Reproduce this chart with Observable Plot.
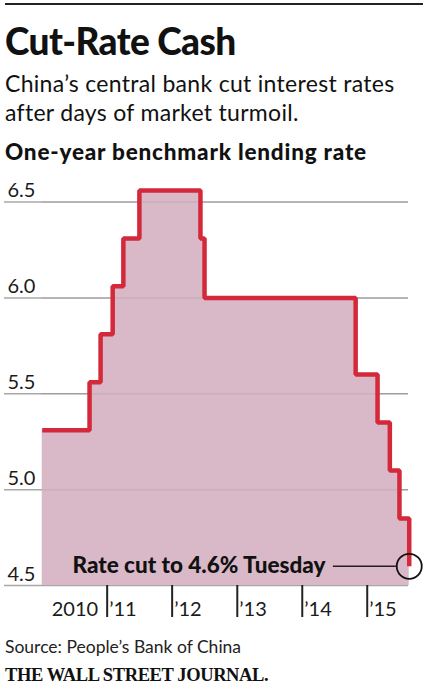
<!DOCTYPE html>
<html>
<head>
<meta charset="utf-8">
<script src="https://cdn.jsdelivr.net/npm/d3@7"></script>
<script src="https://cdn.jsdelivr.net/npm/@observablehq/plot@0.6"></script>
<style>
  html, body { margin: 0; padding: 0; background: #fff; }
  body { width: 427px; height: 692px; position: relative; overflow: hidden; font-family: Lato, "Noto Sans", sans-serif; color: #111; }
  .abs { position: absolute; left: 5px; white-space: nowrap; }
  #rule { position: absolute; left: 5px; top: 3px; width: 418px; height: 2px; background: #222; }
  #title { top: 18px; font-size: 37px; font-weight: 900; line-height: normal; letter-spacing: -0.6px; }
  #sub { top: 69px; font-size: 23px; line-height: 29px; font-weight: 400; letter-spacing: 0.3px; }
  #head { top: 138px; font-size: 22.5px; font-weight: 900; line-height: normal; letter-spacing: 0.8px; }
  #source { top: 636px; font-size: 17.5px; line-height: normal; color: #222; }
  #wsj { top: 665px; font-family: "Liberation Serif", "DejaVu Serif", serif; font-size: 18.5px; font-weight: 700; line-height: normal; color: #111; letter-spacing: -0.4px; }
  #chart { position: absolute; left: 0; top: 170px; }
</style>
</head>
<body>
<div id="rule"></div>
<div class="abs" id="title">Cut-Rate Cash</div>
<div class="abs" id="sub">China’s central bank cut interest rates<br>after days of market turmoil.</div>
<div class="abs" id="head">One-year benchmark lending rate</div>
<div id="chart"></div>
<div class="abs" id="source">Source: People’s Bank of China</div>
<div class="abs" id="wsj">THE WALL STREET JOURNAL.</div>
<script>
// Data (step dates)
const rateDates = ["2010-01-01","2010-09-24","2010-11-25","2011-02-01","2011-04-02","2011-07-01","2012-06-08","2012-07-01","2014-10-28","2015-02-28","2015-05-08","2015-07-01","2015-08-25"];
const rateValues = [5.31, 5.56, 5.81, 6.06, 6.31, 6.56, 6.31, 6.00, 5.60, 5.35, 5.10, 4.85, 4.60];
const yTickValues = [4.5, 5.0, 5.5, 6.0, 6.5];
const xTickYears = ["2011-01-01","2012-01-01","2013-01-01","2014-01-01","2015-01-01"];
const xLabelTexts = ["’11","’12","’13","’14","’15"];
const firstYearLabel = "2010";
const annotationText = "Rate cut to 4.6% Tuesday";
const annotationValue = 4.60;
const annotationLineFrom = "2014-06-25";
const annotationLineTo = "2015-06-14";

const parse = d3.utcParse("%Y-%m-%d");
const series = rateDates.map((d, i) => ({date: parse(d), rate: rateValues[i]}));
const last = series[series.length - 1];
const ticks = xTickYears.map(parse);
const labels = ticks.map((d, i) => ({date: d, text: xLabelTexts[i]}));

const RED = "#d4293a";
const PINK = "#d9b8c8";

const chart = Plot.plot({
  width: 427,
  height: 460,
  marginLeft: 4,
  marginRight: 19,
  marginTop: 0,
  marginBottom: 45,
  x: {type: "utc", domain: [parse("2010-01-01"), parse("2016-01-01")], range: [41.7, 431.7], axis: null},
  y: {domain: [4.5, 6.5], range: [415, 31.5], axis: null},
  style: {fontFamily: "Lato, 'Noto Sans', sans-serif", color: "#111", background: "transparent"},
  marks: [
    Plot.gridY(yTickValues, {stroke: "#a8a8a8", strokeOpacity: 1, strokeWidth: 1.5}),
    Plot.areaY(series, {x: "date", y1: 4.5, y2: "rate", curve: "step-after", fill: PINK}),
    Plot.gridY(yTickValues.slice(1), {x1: series[0].date, stroke: "#7a5a6a", strokeOpacity: 0.12, strokeWidth: 1.5}),
    Plot.lineY(series, {x: "date", y: "rate", curve: "step-after", stroke: RED, strokeWidth: 4.5, strokeLinejoin: "miter", strokeLinecap: "butt"}),
    Plot.text(yTickValues, {y: d => d, text: d => d.toFixed(1), frameAnchor: "left", textAnchor: "start", lineAnchor: "bottom", dx: 3, dy: -5, fontSize: 20, fontWeight: 400, fill: "#1a1a1a"}),
    Plot.axisX({ticks: ticks, tickSize: 32, tickFormat: () => "", stroke: "#222", strokeWidth: 2}),
    Plot.text(labels, {x: "date", text: "text", frameAnchor: "bottom", textAnchor: "start", lineAnchor: "bottom", dx: 2, dy: 30, fontSize: 20, fontWeight: 400, fill: "#1a1a1a"}),
    Plot.text([firstYearLabel], {x: () => ticks[0], text: d => d, frameAnchor: "bottom", textAnchor: "end", lineAnchor: "bottom", dx: -9, dy: 30, fontSize: 20, fontWeight: 400, fill: "#1a1a1a"}),
    Plot.ruleY([annotationValue], {x1: parse(annotationLineFrom), x2: parse(annotationLineTo), stroke: "#2a1a22", strokeWidth: 1.5}),
    Plot.dot([last], {x: "date", y: "rate", r: 12.5, stroke: "#111", strokeWidth: 1.8, fill: "none"}),
    Plot.text([annotationText], {x: () => parse(annotationLineFrom), y: () => annotationValue, text: d => d, textAnchor: "end", lineAnchor: "middle", dx: -8, dy: -1, fontSize: 22.5, fontWeight: 900, fill: "#111"})
  ]
});
document.getElementById("chart").appendChild(chart);
</script>
</body>
</html>
